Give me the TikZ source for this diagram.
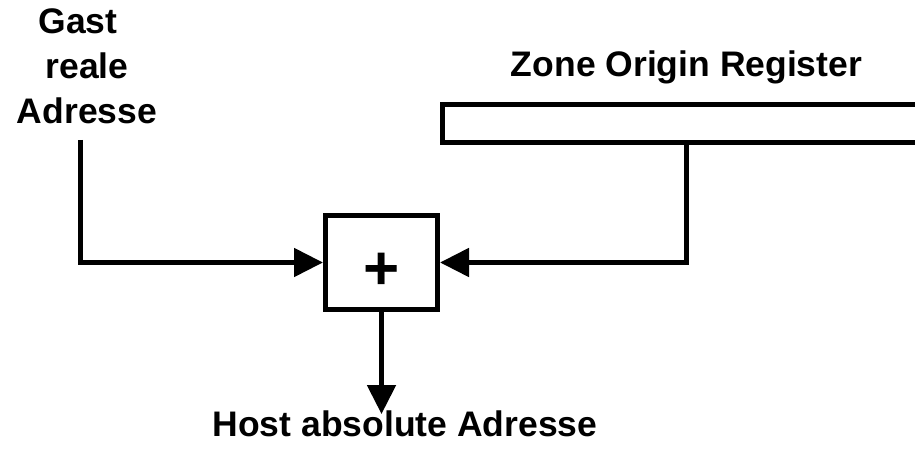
\documentclass[tikz,border=0pt]{standalone}
\usepackage{fontspec}
\setmainfont{Liberation Sans}
\usetikzlibrary{arrows.meta,positioning}

\begin{document}
\begin{tikzpicture}[
      x=1pt,y=1pt,
      every node/.style={
         font=\bfseries\fontsize{35.5}{45}\selectfont},
      txt/.style={
         inner sep=0pt},
      adder/.style={
         draw=black,
         line width=5pt,
         minimum width=112pt,
         minimum height=94pt,
         inner sep=0pt,
         text height=54pt,
         text depth=0pt,
         font=\bfseries\fontsize{62}{62}\selectfont},
      register/.style={
         draw=black,
         line width=5pt,
         minimum width=502pt,
         minimum height=38pt,
         inner sep=0pt},
      arrow_black/.style={
         -{Triangle[length=29pt,width=28pt]},
         line width=5pt}
]
      \useasboundingbox (0,0) rectangle (915,450);

      %adder and register
      \node[adder] (add) at (381.5,187.5) {+};
      \node[register] (zor) at (693.75,326.5) {};

      %labels
      \node[txt,anchor=north,align=center] (gast) at (87,441)
         {Gast\hspace*{18pt}\\reale\\Adresse};
      \node[txt,anchor=base] (zlabel) at (686.5,373) {Zone Origin Register};
      \node[txt,anchor=base] (host) at (405,14) {Host absolute Adresse};

      \coordinate (gin) at (80,310);

      %connectors
      \draw [arrow_black] (gin) |- (add.west);
      \draw [arrow_black] (zlabel |- zor.south) |- (add.east);
      \draw [arrow_black,shorten >=-4pt] (add.south) -- (add.south |- host.north);

\end{tikzpicture}
\end{document}
